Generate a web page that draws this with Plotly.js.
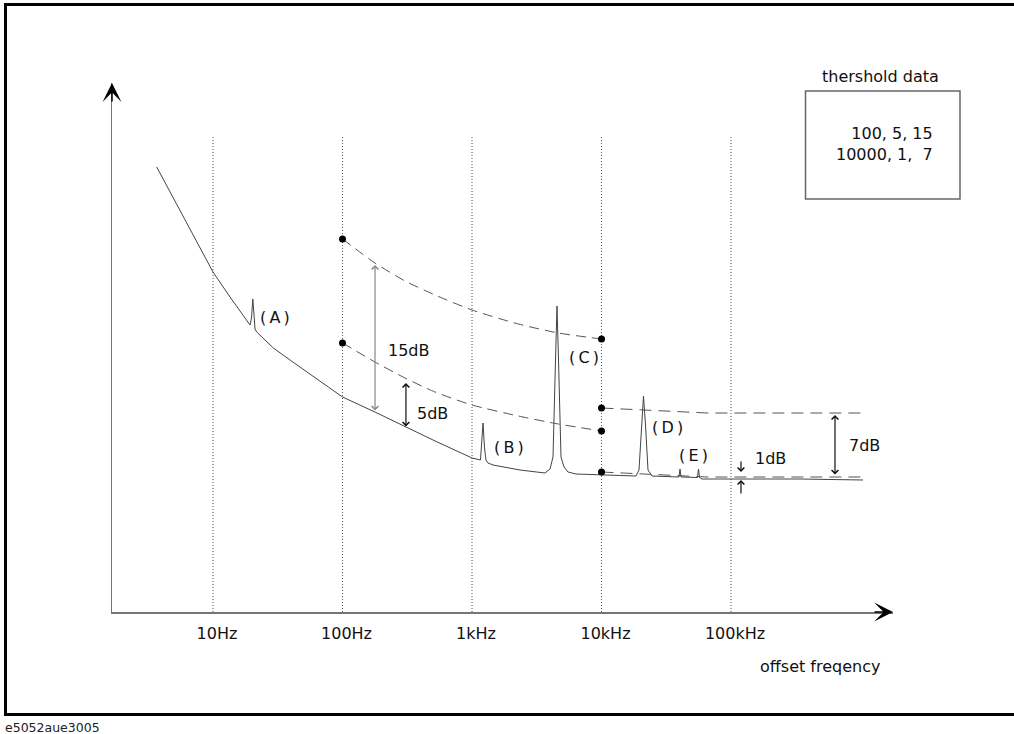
<!DOCTYPE html>
<html>
<head>
<meta charset="utf-8">
<script src="https://cdn.plot.ly/plotly-3.0.1.min.js"></script>
<style>
  html, body { margin: 0; padding: 0; background: #fff; }
  #chart { width: 1014px; height: 734px; }
</style>
</head>
<body>
<div id="chart"></div>
<script>
// ---- data (offset frequency in Hz, level in dB, arbitrary reference) ----
const noiseFreq = [3.675, 4.935, 7.007, 10, 13.53, 17.67, 19.31, 19.83, 20.29, 20.66, 21.1, 21.75,
  29.22, 39.32, 52.92, 73.26, 100, 178, 309, 500, 1000, 1163, 1184, 1216, 1249, 1282, 1329, 1453,
  2348, 3662, 4002, 4222, 4414, 4533, 4656, 4868, 5134, 5510, 6356, 10000, 13900, 18470, 19480,
  20370, 21100, 21870, 22860, 24550, 39670, 40390, 41110, 55110, 56110, 57120, 59730, 341000, 1045000];
const noiseLevel = [44.5, 41.4, 37.7, 34.0, 31.5, 29.4, 28.7, 29.4, 31.3, 30.0, 28.3, 28.0,
  26.4, 25.2, 24.0, 22.75, 21.5, 20.0, 18.5, 17.2, 15.4, 15.2, 16.7, 18.9, 16.4, 15.2, 14.9, 14.7,
  14.2, 13.9, 14.3, 15.5, 25.2, 30.6, 25.2, 15.5, 14.5, 14.0, 13.8, 13.7, 13.6, 13.6, 14.2,
  18.7, 21.6, 18.7, 14.2, 13.6, 13.5, 14.3, 13.5, 13.45, 14.3, 13.45, 13.3, 13.3, 13.2];

const thrFreq = [100, 178, 304, 518, 1000, 2278, 4639, 10000];
const thrUpperLevel = [37.3, 34.9, 33.1, 31.7, 30.2, 28.8, 27.9, 27.3];
const thrLowerLevel = [26.9, 25.0, 23.4, 22.0, 20.7, 19.6, 18.8, 18.1];

const thrHighFreq = [10000, 65270, 1045000];
const thrHighLevel = [20.4, 19.9, 19.9];
const thrLowFreq = [10000, 65270, 1045000];
const thrLowLevel = [14.0, 13.5, 13.5];

const dotFreq = [100, 100, 10000, 10000, 10000, 10000];
const dotLevel = [37.3, 26.9, 27.3, 18.1, 20.4, 14.0];

const tickFreqs = [10, 100, 1000, 10000, 100000];
const tickLabels = ['10Hz', '100Hz', '1kHz', '10kHz', '100kHz'];
const gridTop = 47.5;

const thresholdLines = ['100, 5, 15', '10000, 1,\u00a0\u00a07'];
const spurNames = ['A', 'B', 'C', 'D', 'E'];
const spurLabelAt = [[1.347, 29.5], [3.154, 16.5], [3.734, 25.5], [4.375, 18.5], [4.583, 15.7]];

// ---- traces ----
const traces = [];
tickFreqs.forEach(f => {
  traces.push({x: [f, f], y: [0, gridTop], mode: 'lines', hoverinfo: 'skip',
    line: {color: '#555', width: 1, dash: '1px,2px'}});
});
traces.push({x: thrFreq, y: thrUpperLevel, mode: 'lines',
  line: {color: '#555', width: 1, dash: '10px,6px', shape: 'spline', smoothing: 0.6}});
traces.push({x: thrFreq, y: thrLowerLevel, mode: 'lines',
  line: {color: '#555', width: 1, dash: '10px,6px', shape: 'spline', smoothing: 0.6}});
traces.push({x: thrHighFreq, y: thrHighLevel, mode: 'lines',
  line: {color: '#555', width: 1, dash: '12px,7px'}});
traces.push({x: thrLowFreq, y: thrLowLevel, mode: 'lines',
  line: {color: '#555', width: 1, dash: '12px,7px'}});
traces.push({x: noiseFreq, y: noiseLevel, mode: 'lines',
  line: {color: '#444', width: 1}});
traces.push({x: dotFreq, y: dotLevel, mode: 'markers',
  marker: {color: '#000', size: 7}});

// ---- helpers for paper coordinates of this layout ----
const W = 1014, H = 734, ML = 112, MR = 121, MT = 83, MB = 122;
const PW = W - ML - MR, PH = H - MT - MB;
const px = v => (v - ML) / PW;
const py = v => (H - MB - v) / PH;

function dbl(x, y0, y1, color) {
  return {xref: 'x', yref: 'y', axref: 'x', ayref: 'y', x: x, y: y0, ax: x, ay: y1, text: '',
    showarrow: true, arrowside: 'end+start', arrowhead: 4, startarrowhead: 4,
    arrowsize: 1.1, startarrowsize: 1.1, arrowwidth: 1.2, arrowcolor: color};
}
function single(x, yHead, yTail) {
  return {xref: 'x', yref: 'y', axref: 'x', ayref: 'y', x: x, y: yHead, ax: x, ay: yTail, text: '',
    showarrow: true, arrowhead: 4, arrowsize: 1.1, arrowwidth: 1.2, arrowcolor: '#111'};
}
function label(x, y, t) {
  return {xref: 'x', yref: 'y', x: x, y: y, text: t, showarrow: false,
    xanchor: 'left', yanchor: 'middle', font: {size: 16, color: '#111'}};
}

const annotations = [
  // axis arrow heads
  {xref: 'paper', yref: 'paper', x: 0, y: 1, ax: 0, ay: 20, text: '', showarrow: true,
    arrowhead: 3, arrowsize: 2.1, arrowwidth: 1.5, arrowcolor: '#000'},
  {xref: 'paper', yref: 'paper', x: 1, y: 0, ax: -20, ay: 0, text: '', showarrow: true,
    arrowhead: 3, arrowsize: 2.1, arrowwidth: 1.5, arrowcolor: '#000'},
  // dB arrows
  dbl(2.251, 34.7, 20.0, '#888'),
  dbl(2.490, 22.9, 18.4, '#111'),
  dbl(5.803, 19.7, 13.6, '#111'),
  single(5.077, 14.0, 15.2),
  single(5.077, 13.2, 11.7),
  label(2.336, 26.2, '15dB'),
  label(2.560, 19.9, '5dB'),
  label(5.896, 16.7, '7dB'),
  label(5.170, 15.4, '1dB'),
  // threshold box texts
  {xref: 'paper', yref: 'paper', x: px(880), y: py(77), text: 'thershold data', showarrow: false,
    xanchor: 'center', yanchor: 'middle', font: {size: 16, color: '#111'}},
  {xref: 'paper', yref: 'paper', x: px(935), y: py(144), text: thresholdLines.join('<br>'),
    showarrow: false, xanchor: 'right', yanchor: 'middle', align: 'right',
    font: {size: 16, color: '#111'}},
  // axis caption
  {xref: 'paper', yref: 'paper', x: px(758), y: py(667), text: 'offset freqency', showarrow: false,
    xanchor: 'left', yanchor: 'middle', font: {size: 16, color: '#111'}},
  // figure id
  {xref: 'paper', yref: 'paper', x: px(3), y: py(727), text: 'e5052aue3005', showarrow: false,
    xanchor: 'left', yanchor: 'middle', font: {size: 12.5, color: '#222'}}
];
spurNames.forEach((n, i) => {
  annotations.push(label(spurLabelAt[i][0], spurLabelAt[i][1], '(\u2009' + n + '\u2009)'));
});

const layout = {
  width: W, height: H,
  margin: {l: ML, r: MR, t: MT, b: MB, pad: 0},
  paper_bgcolor: '#fff', plot_bgcolor: '#fff',
  showlegend: false,
  font: {family: 'DejaVu Sans', size: 16, color: '#111'},
  xaxis: {type: 'log', range: [0.22, 6.251], showgrid: false, zeroline: false,
    showline: true, linecolor: '#777', linewidth: 1.5, ticks: '',
    tickmode: 'array', tickvals: tickFreqs, ticktext: tickLabels,
    tickfont: {size: 16, color: '#111'}, ticklabelstandoff: 6, ticklabelshift: 4},
  yaxis: {range: [0, 52.9], showgrid: false, zeroline: false, showline: true,
    linecolor: '#777', linewidth: 1.5, ticks: '', showticklabels: false},
  shapes: [
    {type: 'rect', xref: 'paper', yref: 'paper', x0: px(5.5), x1: px(1016), y0: py(714.5), y1: py(4.5),
      line: {color: '#000', width: 3}, fillcolor: 'rgba(0,0,0,0)'},
    {type: 'rect', xref: 'paper', yref: 'paper', x0: px(805.5), x1: px(960), y0: py(199), y1: py(91),
      line: {color: '#666', width: 1.5}, fillcolor: 'rgba(0,0,0,0)'}
  ],
  annotations: annotations
};

Plotly.newPlot('chart', traces, layout, {staticPlot: true, displayModeBar: false});
</script>
</body>
</html>
